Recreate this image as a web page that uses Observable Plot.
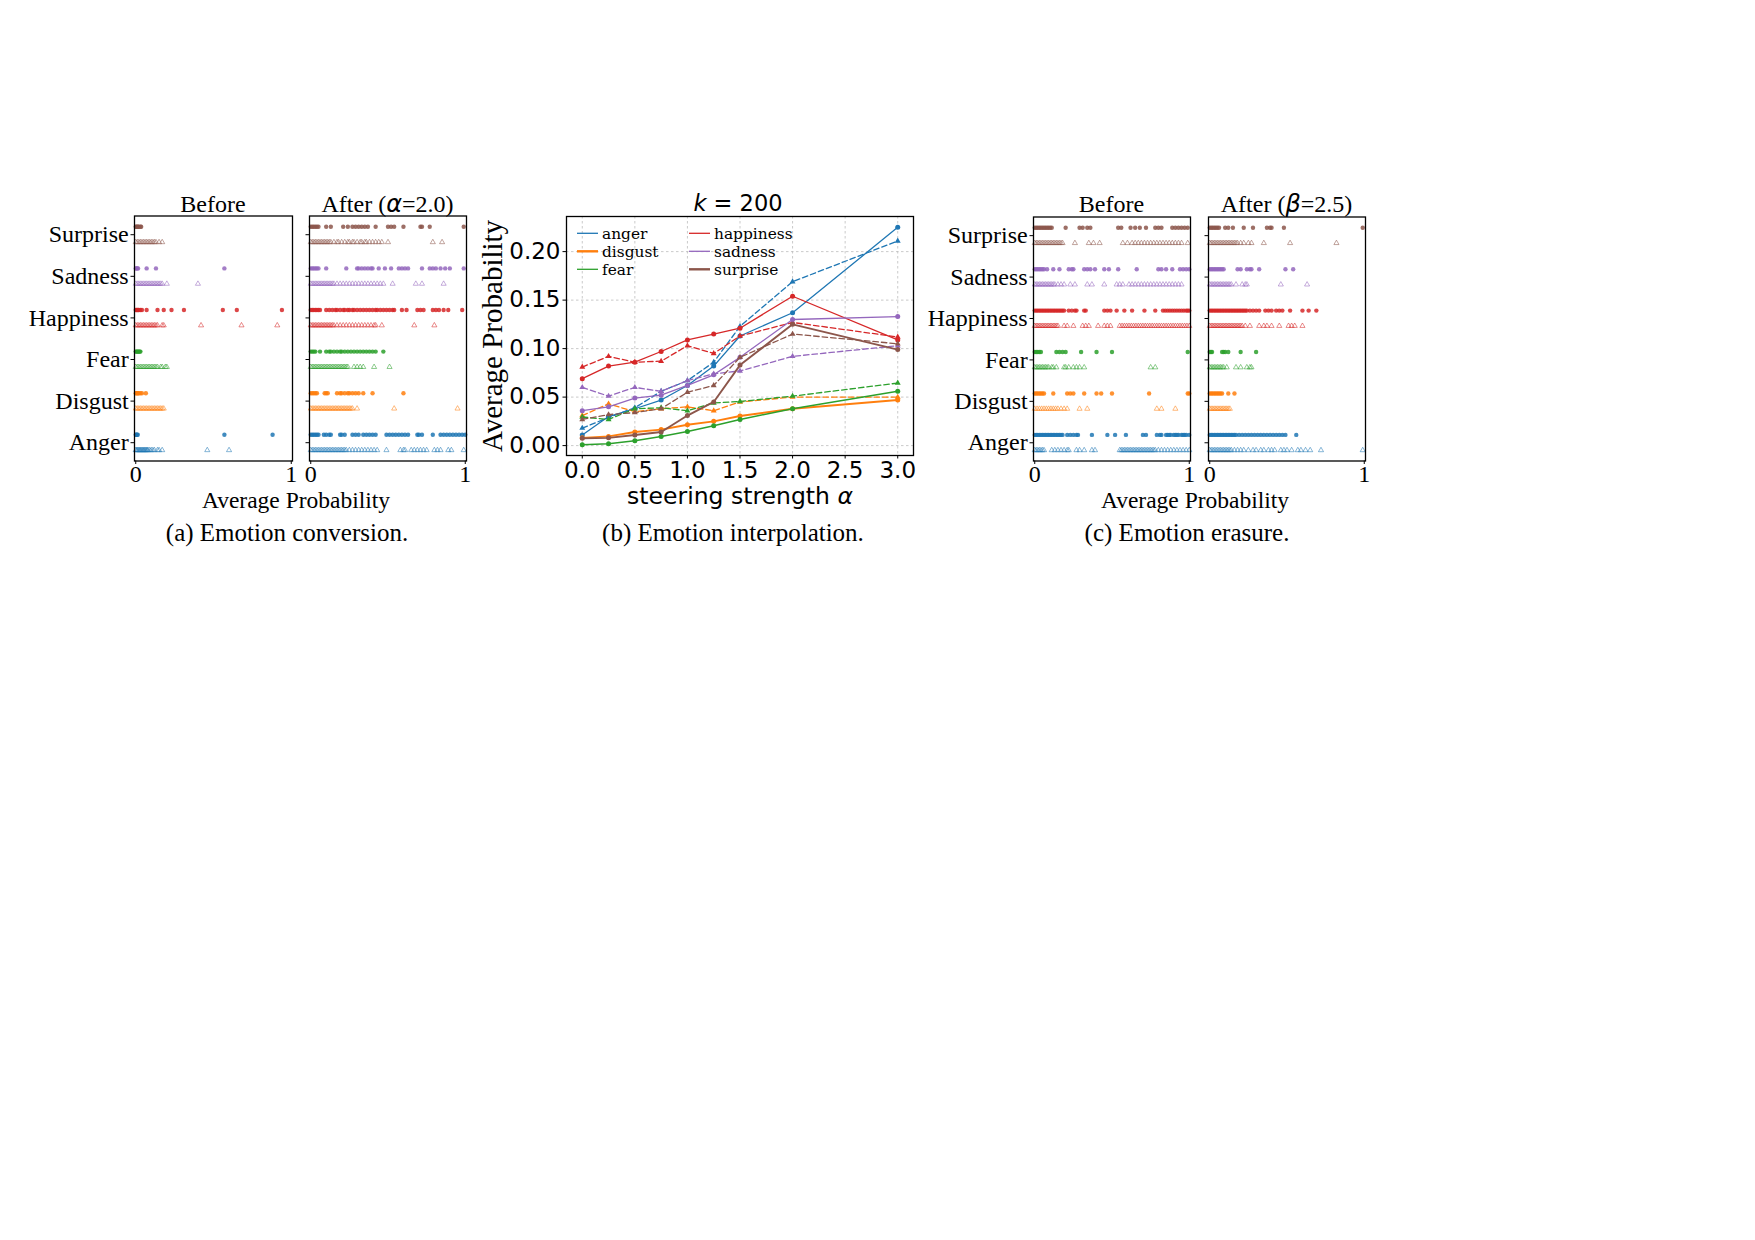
<!DOCTYPE html>
<html>
<head>
<meta charset="utf-8">
<script src="https://cdn.jsdelivr.net/npm/d3@7"></script>
<script src="https://cdn.jsdelivr.net/npm/@observablehq/plot@0.6"></script>
<style>
html,body{margin:0;padding:0;background:#fff;}
body{width:1755px;height:1240px;position:relative;overflow:hidden;}
.p{position:absolute;top:0;}
svg{max-width:none !important;}
</style>
</head>
<body>
<script>
// ---------- categories ----------
const emotions = ["Anger","Disgust","Fear","Happiness","Sadness","Surprise"];
const legendNames = ["anger","disgust","fear","happiness","sadness","surprise"];
const colors = ["#1f77b4","#ff7f0e","#2ca02c","#d62728","#9467bd","#8c564b"];
const stripTicks = [0, 1];

// ---------- (a) Emotion conversion : Before ----------
const aBefDotAnger = [0, 0.004, 0.008, 0.013, 0.57, 0.88];
const aBefTriAnger = [0, 0.005, 0.01, 0.015, 0.02, 0.025, 0.03, 0.035, 0.04, 0.045, 0.05, 0.055, 0.06, 0.065, 0.07, 0.075, 0.08, 0.09, 0.1, 0.11, 0.12, 0.14, 0.15, 0.17, 0.46, 0.6];
const aBefDotDisgust = [0, 0.005, 0.01, 0.015, 0.02, 0.03, 0.04, 0.065];
const aBefTriDisgust = [0, 0.01, 0.02, 0.03, 0.04, 0.05, 0.06, 0.07, 0.08, 0.09, 0.1, 0.11, 0.12, 0.13, 0.14, 0.15, 0.16, 0.17, 0.18];
const aBefDotFear = [0, 0.005, 0.01, 0.015, 0.02, 0.025, 0.03];
const aBefTriFear = [0, 0.01, 0.02, 0.03, 0.04, 0.05, 0.06, 0.07, 0.08, 0.09, 0.1, 0.11, 0.12, 0.13, 0.14, 0.16, 0.17, 0.19, 0.2];
const aBefDotHappiness = [0, 0.005, 0.01, 0.015, 0.02, 0.03, 0.04, 0.07, 0.14, 0.18, 0.23, 0.31, 0.56, 0.65, 0.94];
const aBefTriHappiness = [0, 0.01, 0.02, 0.03, 0.04, 0.05, 0.06, 0.07, 0.08, 0.09, 0.1, 0.11, 0.12, 0.13, 0.14, 0.17, 0.18, 0.42, 0.68, 0.91];
const aBefDotSadness = [0, 0.005, 0.01, 0.015, 0.07, 0.13, 0.57];
const aBefTriSadness = [0, 0.01, 0.02, 0.03, 0.04, 0.05, 0.06, 0.07, 0.08, 0.09, 0.1, 0.11, 0.12, 0.13, 0.14, 0.15, 0.16, 0.17, 0.2, 0.4];
const aBefDotSurprise = [0, 0.005, 0.01, 0.015, 0.02, 0.03, 0.035];
const aBefTriSurprise = [0, 0.01, 0.02, 0.03, 0.04, 0.05, 0.06, 0.07, 0.08, 0.09, 0.1, 0.11, 0.12, 0.13, 0.15, 0.17];

// ---------- (a) Emotion conversion : After (alpha = 2.0) ----------
const aAftDotAnger = [0, 0.01, 0.02, 0.03, 0.04, 0.05, 0.085, 0.1, 0.12, 0.13, 0.19, 0.2, 0.22, 0.27, 0.29, 0.31, 0.34, 0.36, 0.38, 0.4, 0.42, 0.49, 0.51, 0.53, 0.55, 0.57, 0.59, 0.61, 0.63, 0.69, 0.7, 0.72, 0.79, 0.84, 0.86, 0.88, 0.9, 0.92, 0.94, 0.96, 0.98, 1.0];
const aAftTriAnger = [0, 0.01, 0.02, 0.03, 0.04, 0.05, 0.06, 0.07, 0.08, 0.09, 0.1, 0.11, 0.12, 0.13, 0.14, 0.15, 0.16, 0.17, 0.18, 0.19, 0.2, 0.21, 0.22, 0.23, 0.25, 0.27, 0.29, 0.31, 0.33, 0.35, 0.37, 0.39, 0.41, 0.43, 0.49, 0.58, 0.6, 0.61, 0.65, 0.67, 0.69, 0.71, 0.73, 0.75, 0.8, 0.82, 0.84, 0.89, 0.91, 0.99];
const aAftDotDisgust = [0, 0.01, 0.02, 0.03, 0.04, 0.09, 0.1, 0.11, 0.17, 0.19, 0.2, 0.22, 0.24, 0.25, 0.27, 0.29, 0.31, 0.34, 0.4, 0.6];
const aAftTriDisgust = [0, 0.01, 0.02, 0.03, 0.04, 0.05, 0.06, 0.07, 0.08, 0.09, 0.1, 0.11, 0.12, 0.13, 0.14, 0.15, 0.16, 0.17, 0.18, 0.19, 0.2, 0.21, 0.22, 0.23, 0.24, 0.25, 0.26, 0.27, 0.3, 0.54, 0.95];
const aAftDotFear = [0, 0.01, 0.02, 0.03, 0.06, 0.1, 0.12, 0.13, 0.15, 0.17, 0.19, 0.2, 0.22, 0.24, 0.26, 0.28, 0.3, 0.32, 0.34, 0.36, 0.38, 0.4, 0.42, 0.47];
const aAftTriFear = [0, 0.01, 0.02, 0.03, 0.04, 0.05, 0.06, 0.07, 0.08, 0.09, 0.1, 0.11, 0.12, 0.13, 0.14, 0.15, 0.16, 0.17, 0.18, 0.19, 0.2, 0.21, 0.22, 0.23, 0.24, 0.28, 0.3, 0.32, 0.34, 0.41, 0.51];
const aAftDotHappiness = [0, 0.01, 0.02, 0.03, 0.04, 0.05, 0.06, 0.1, 0.12, 0.14, 0.16, 0.17, 0.19, 0.21, 0.22, 0.24, 0.25, 0.27, 0.28, 0.3, 0.32, 0.34, 0.36, 0.38, 0.4, 0.42, 0.43, 0.45, 0.47, 0.49, 0.51, 0.53, 0.54, 0.59, 0.62, 0.69, 0.71, 0.73, 0.79, 0.81, 0.83, 0.86, 0.89, 0.98];
const aAftTriHappiness = [0, 0.01, 0.02, 0.03, 0.04, 0.05, 0.06, 0.07, 0.08, 0.09, 0.1, 0.11, 0.12, 0.13, 0.14, 0.15, 0.17, 0.19, 0.21, 0.23, 0.25, 0.27, 0.29, 0.31, 0.33, 0.35, 0.37, 0.39, 0.41, 0.42, 0.46, 0.67, 0.8];
const aAftDotSadness = [0, 0.01, 0.02, 0.03, 0.04, 0.05, 0.1, 0.23, 0.3, 0.31, 0.33, 0.35, 0.37, 0.39, 0.4, 0.44, 0.48, 0.52, 0.57, 0.59, 0.61, 0.63, 0.72, 0.77, 0.79, 0.81, 0.84, 0.87, 0.9, 0.99];
const aAftTriSadness = [0, 0.01, 0.02, 0.03, 0.04, 0.05, 0.06, 0.07, 0.08, 0.09, 0.1, 0.11, 0.12, 0.13, 0.14, 0.15, 0.17, 0.19, 0.21, 0.23, 0.25, 0.27, 0.29, 0.31, 0.33, 0.35, 0.37, 0.39, 0.41, 0.43, 0.45, 0.47, 0.53, 0.68, 0.72, 0.86];
const aAftDotSurprise = [0, 0.01, 0.02, 0.03, 0.04, 0.05, 0.1, 0.13, 0.21, 0.24, 0.27, 0.29, 0.31, 0.33, 0.35, 0.37, 0.42, 0.5, 0.52, 0.54, 0.6, 0.71, 0.72, 0.77, 0.99];
const aAftTriSurprise = [0, 0.01, 0.02, 0.03, 0.04, 0.05, 0.06, 0.07, 0.08, 0.09, 0.1, 0.11, 0.12, 0.13, 0.15, 0.17, 0.18, 0.2, 0.22, 0.24, 0.25, 0.27, 0.28, 0.3, 0.32, 0.33, 0.35, 0.36, 0.38, 0.4, 0.42, 0.44, 0.46, 0.5, 0.79, 0.85];

// ---------- (c) Emotion erasure : Before ----------
const cBefDotAnger = [0, 0.01, 0.02, 0.03, 0.04, 0.05, 0.06, 0.07, 0.08, 0.09, 0.1, 0.11, 0.12, 0.13, 0.14, 0.15, 0.16, 0.17, 0.18, 0.21, 0.23, 0.25, 0.27, 0.28, 0.37, 0.47, 0.52, 0.59, 0.7, 0.72, 0.79, 0.81, 0.82, 0.85, 0.86, 0.87, 0.88, 0.9, 0.91, 0.92, 0.93, 0.95, 0.96, 0.97, 0.98, 1.0];
const cBefTriAnger = [0, 0.01, 0.02, 0.03, 0.04, 0.05, 0.06, 0.11, 0.13, 0.15, 0.17, 0.19, 0.21, 0.22, 0.27, 0.29, 0.32, 0.37, 0.39, 0.55, 0.56, 0.57, 0.58, 0.59, 0.6, 0.61, 0.62, 0.63, 0.64, 0.65, 0.66, 0.67, 0.68, 0.69, 0.7, 0.71, 0.72, 0.73, 0.74, 0.75, 0.76, 0.77, 0.78, 0.8, 0.82, 0.84, 0.86, 0.88, 0.9, 0.92, 0.94, 0.96, 0.98, 1.0];
const cBefDotDisgust = [0, 0.01, 0.02, 0.03, 0.04, 0.05, 0.06, 0.12, 0.21, 0.23, 0.25, 0.32, 0.4, 0.43, 0.5, 0.74, 0.99, 1.0];
const cBefTriDisgust = [0, 0.015, 0.03, 0.045, 0.06, 0.075, 0.09, 0.105, 0.12, 0.135, 0.15, 0.17, 0.19, 0.21, 0.29, 0.34, 0.79, 0.82, 0.91];
const cBefDotFear = [0, 0.01, 0.02, 0.03, 0.04, 0.14, 0.16, 0.18, 0.2, 0.3, 0.4, 0.5, 0.99];
const cBefTriFear = [0, 0.01, 0.02, 0.03, 0.04, 0.05, 0.06, 0.07, 0.08, 0.09, 0.11, 0.12, 0.14, 0.19, 0.2, 0.22, 0.25, 0.27, 0.29, 0.32, 0.75, 0.78];
const cBefDotHappiness = [0, 0.01, 0.02, 0.03, 0.04, 0.05, 0.06, 0.07, 0.08, 0.09, 0.1, 0.11, 0.12, 0.13, 0.14, 0.15, 0.16, 0.17, 0.18, 0.19, 0.22, 0.24, 0.26, 0.27, 0.32, 0.33, 0.45, 0.47, 0.49, 0.53, 0.58, 0.63, 0.71, 0.78, 0.83, 0.845, 0.86, 0.875, 0.89, 0.905, 0.92, 0.935, 0.95, 0.965, 0.98, 0.99, 1.0];
const cBefTriHappiness = [0, 0.01, 0.02, 0.03, 0.04, 0.05, 0.06, 0.07, 0.08, 0.09, 0.1, 0.11, 0.12, 0.13, 0.14, 0.15, 0.19, 0.21, 0.25, 0.31, 0.33, 0.35, 0.41, 0.45, 0.47, 0.49, 0.55, 0.565, 0.58, 0.595, 0.61, 0.625, 0.64, 0.655, 0.67, 0.685, 0.7, 0.715, 0.73, 0.745, 0.76, 0.775, 0.79, 0.805, 0.82, 0.835, 0.85, 0.865, 0.88, 0.895, 0.91, 0.925, 0.94, 0.955, 0.97, 0.985, 1.0];
const cBefDotSadness = [0, 0.01, 0.02, 0.03, 0.04, 0.05, 0.06, 0.08, 0.12, 0.16, 0.22, 0.24, 0.25, 0.32, 0.34, 0.36, 0.39, 0.45, 0.48, 0.54, 0.66, 0.8, 0.82, 0.85, 0.89, 0.94, 0.96, 0.98, 1.0];
const cBefTriSadness = [0, 0.01, 0.02, 0.03, 0.04, 0.05, 0.06, 0.07, 0.08, 0.09, 0.1, 0.11, 0.12, 0.13, 0.15, 0.17, 0.19, 0.23, 0.26, 0.34, 0.37, 0.45, 0.53, 0.55, 0.57, 0.61, 0.63, 0.65, 0.67, 0.69, 0.71, 0.73, 0.75, 0.77, 0.79, 0.81, 0.83, 0.85, 0.87, 0.89, 0.91, 0.93, 0.95];
const cBefDotSurprise = [0, 0.01, 0.02, 0.03, 0.04, 0.05, 0.06, 0.07, 0.08, 0.09, 0.1, 0.11, 0.2, 0.29, 0.31, 0.34, 0.36, 0.54, 0.56, 0.62, 0.65, 0.68, 0.72, 0.78, 0.8, 0.82, 0.89, 0.91, 0.93, 0.95, 0.97, 0.99];
const cBefTriSurprise = [0, 0.01, 0.02, 0.03, 0.04, 0.05, 0.06, 0.07, 0.08, 0.09, 0.1, 0.11, 0.12, 0.13, 0.14, 0.15, 0.16, 0.17, 0.18, 0.26, 0.35, 0.38, 0.42, 0.57, 0.6, 0.63, 0.65, 0.67, 0.69, 0.71, 0.73, 0.75, 0.77, 0.79, 0.81, 0.83, 0.85, 0.87, 0.89, 0.91, 0.93, 0.95, 0.99];

// ---------- (c) Emotion erasure : After (beta = 2.5) ----------
const cAftDotAnger = [0, 0.01, 0.02, 0.03, 0.04, 0.05, 0.06, 0.07, 0.08, 0.09, 0.1, 0.11, 0.12, 0.13, 0.14, 0.15, 0.16, 0.17, 0.19, 0.21, 0.23, 0.25, 0.27, 0.29, 0.31, 0.33, 0.35, 0.37, 0.39, 0.41, 0.43, 0.45, 0.47, 0.49, 0.56];
const cAftTriAnger = [0, 0.01, 0.02, 0.03, 0.04, 0.05, 0.06, 0.07, 0.08, 0.09, 0.1, 0.11, 0.12, 0.13, 0.14, 0.16, 0.18, 0.2, 0.22, 0.25, 0.28, 0.3, 0.33, 0.35, 0.38, 0.4, 0.42, 0.46, 0.48, 0.5, 0.53, 0.57, 0.59, 0.62, 0.65, 0.72, 0.99];
const cAftDotDisgust = [0, 0.01, 0.02, 0.03, 0.04, 0.05, 0.06, 0.07, 0.08, 0.12, 0.16];
const cAftTriDisgust = [0, 0.01, 0.02, 0.03, 0.04, 0.05, 0.06, 0.07, 0.08, 0.09, 0.1, 0.11, 0.12, 0.13];
const cAftDotFear = [0, 0.008, 0.015, 0.08, 0.09, 0.1, 0.12, 0.2, 0.3];
const cAftTriFear = [0, 0.01, 0.02, 0.03, 0.04, 0.05, 0.06, 0.07, 0.08, 0.09, 0.11, 0.17, 0.2, 0.24, 0.26, 0.27];
const cAftDotHappiness = [0, 0.01, 0.02, 0.03, 0.04, 0.05, 0.06, 0.07, 0.08, 0.09, 0.1, 0.11, 0.12, 0.13, 0.14, 0.15, 0.16, 0.17, 0.18, 0.19, 0.2, 0.21, 0.22, 0.23, 0.24, 0.26, 0.28, 0.3, 0.32, 0.36, 0.38, 0.4, 0.43, 0.45, 0.47, 0.52, 0.6, 0.64, 0.69];
const cAftTriHappiness = [0, 0.01, 0.02, 0.03, 0.04, 0.05, 0.06, 0.07, 0.08, 0.09, 0.1, 0.11, 0.12, 0.13, 0.14, 0.15, 0.16, 0.17, 0.18, 0.19, 0.2, 0.21, 0.23, 0.26, 0.32, 0.35, 0.37, 0.4, 0.45, 0.51, 0.53, 0.55, 0.6];
const cAftDotSadness = [0, 0.01, 0.02, 0.03, 0.04, 0.05, 0.06, 0.07, 0.08, 0.09, 0.18, 0.2, 0.24, 0.26, 0.27, 0.32, 0.49, 0.54];
const cAftTriSadness = [0, 0.01, 0.02, 0.03, 0.04, 0.05, 0.06, 0.07, 0.08, 0.09, 0.1, 0.11, 0.12, 0.13, 0.14, 0.17, 0.21, 0.23, 0.24, 0.46, 0.63];
const cAftDotSurprise = [0, 0.01, 0.02, 0.03, 0.04, 0.05, 0.06, 0.1, 0.12, 0.15, 0.22, 0.28, 0.37, 0.39, 0.4, 0.48, 0.99];
const cAftTriSurprise = [0, 0.01, 0.02, 0.03, 0.04, 0.05, 0.06, 0.07, 0.08, 0.09, 0.1, 0.11, 0.12, 0.13, 0.14, 0.15, 0.16, 0.17, 0.18, 0.2, 0.22, 0.25, 0.27, 0.35, 0.52, 0.82];

// ---------- (b) Emotion interpolation, k = 200 ----------
const alphas = [0, 0.25, 0.5, 0.75, 1.0, 1.25, 1.5, 2.0, 3.0];
const angerSolid     = [0.011, 0.030, 0.038, 0.047, 0.062, 0.082, 0.113, 0.137, 0.225];
const angerDashed    = [0.018, 0.029, 0.039, 0.056, 0.067, 0.086, 0.123, 0.169, 0.211];
const disgustSolid   = [0.008, 0.0095, 0.014, 0.0165, 0.0215, 0.025, 0.0305, 0.038, 0.047];
const disgustDashed  = [0.031, 0.043, 0.035, 0.038, 0.040, 0.036, 0.045, 0.050, 0.050];
const fearSolid      = [0.001, 0.002, 0.005, 0.0095, 0.0145, 0.0205, 0.027, 0.038, 0.056];
const fearDashed     = [0.0295, 0.027, 0.038, 0.039, 0.036, 0.044, 0.0455, 0.051, 0.0645];
const happinessSolid = [0.069, 0.082, 0.086, 0.097, 0.109, 0.115, 0.121, 0.154, 0.109];
const happinessDashed= [0.081, 0.092, 0.086, 0.087, 0.103, 0.095, 0.113, 0.127, 0.112];
const sadnessSolid   = [0.036, 0.040, 0.049, 0.052, 0.062, 0.073, 0.091, 0.130, 0.133];
const sadnessDashed  = [0.060, 0.051, 0.060, 0.056, 0.067, 0.074, 0.077, 0.092, 0.103];
const surpriseSolid  = [0.0075, 0.008, 0.011, 0.014, 0.031, 0.045, 0.083, 0.125, 0.099];
const surpriseDashed = [0.027, 0.032, 0.034, 0.038, 0.055, 0.062, 0.091, 0.115, 0.105];
const yTicksB = [0, 0.05, 0.10, 0.15, 0.20];
const xTicksB = [0, 0.5, 1.0, 1.5, 2.0, 2.5, 3.0];

// ---------- helpers ----------
const DOT_OFF = 0.19, TRI_OFF = -0.18;
function rows(lists, off) {
  return lists.flatMap((arr, i) => arr.map(v => ({v, y: i + off, c: colors[i]})));
}
const H = 500;
function strip({svgLeft, svgRight, left, right, top, bottom, dots, tris, labels}) {
  const el = Plot.plot({
    width: svgRight - svgLeft, height: H,
    marginLeft: left - svgLeft, marginRight: svgRight - right,
    marginTop: top, marginBottom: H - bottom,
    style: {background: "transparent", overflow: "visible", fontFamily: "'Liberation Serif','Times New Roman',serif", fontSize: "24px", color: "black"},
    x: {domain: [-0.008, 1.008], ticks: stripTicks, tickFormat: d => String(d), tickSize: 3.5, tickPadding: 0.5, label: null},
    y: {domain: [-0.44, 5.45], ticks: [0,1,2,3,4,5], tickFormat: i => labels ? emotions[i] : "", tickSize: 3.5, tickPadding: 2.3, label: null},
    color: {type: "identity"},
    marks: [
      Plot.dot(rows(tris, TRI_OFF), {x: "v", y: "y", symbol: "triangle", r: 1.9, stroke: "c", fill: "none", strokeWidth: 0.9, strokeOpacity: 0.6}),
      Plot.dot(rows(dots, DOT_OFF), {x: "v", y: "y", r: 2.2, fill: "c", fillOpacity: 0.85, stroke: "none"}),
      Plot.frame({stroke: "black", strokeWidth: 1.3})
    ]
  });
  el.classList.add("p");
  el.style.left = svgLeft + "px";
  document.body.appendChild(el);
}

// (a) Before
strip({svgLeft: 0, svgRight: 300, left: 134, right: 292, top: 215.5, bottom: 460.5, labels: true,
  dots: [aBefDotAnger, aBefDotDisgust, aBefDotFear, aBefDotHappiness, aBefDotSadness, aBefDotSurprise],
  tris: [aBefTriAnger, aBefTriDisgust, aBefTriFear, aBefTriHappiness, aBefTriSadness, aBefTriSurprise]});
// (a) After
strip({svgLeft: 300, svgRight: 478, left: 309, right: 466, top: 215.5, bottom: 460.5, labels: false,
  dots: [aAftDotAnger, aAftDotDisgust, aAftDotFear, aAftDotHappiness, aAftDotSadness, aAftDotSurprise],
  tris: [aAftTriAnger, aAftTriDisgust, aAftTriFear, aAftTriHappiness, aAftTriSadness, aAftTriSurprise]});
// (c) Before
strip({svgLeft: 930, svgRight: 1198, left: 1033, right: 1190, top: 216.5, bottom: 460.5, labels: true,
  dots: [cBefDotAnger, cBefDotDisgust, cBefDotFear, cBefDotHappiness, cBefDotSadness, cBefDotSurprise],
  tris: [cBefTriAnger, cBefTriDisgust, cBefTriFear, cBefTriHappiness, cBefTriSadness, cBefTriSurprise]});
// (c) After
strip({svgLeft: 1198, svgRight: 1380, left: 1208, right: 1365, top: 216.5, bottom: 460.5, labels: false,
  dots: [cAftDotAnger, cAftDotDisgust, cAftDotFear, cAftDotHappiness, cAftDotSadness, cAftDotSurprise],
  tris: [cAftTriAnger, cAftTriDisgust, cAftTriFear, cAftTriHappiness, cAftTriSadness, cAftTriSurprise]});

// (b) line chart
const solids = [angerSolid, disgustSolid, fearSolid, happinessSolid, sadnessSolid, surpriseSolid];
const dashes = [angerDashed, disgustDashed, fearDashed, happinessDashed, sadnessDashed, surpriseDashed];
const solidW = [1.3, 1.9, 1.5, 1.3, 1.3, 1.9];
const marksB = [
  Plot.gridX(xTicksB, {stroke: "#bdbdbd", strokeOpacity: 1, strokeWidth: 0.8, strokeDasharray: "2.5,2.5"}),
  Plot.gridY(yTicksB, {stroke: "#bdbdbd", strokeOpacity: 1, strokeWidth: 0.8, strokeDasharray: "2.5,2.5"})
];
legendNames.forEach((name, i) => {
  const sd = alphas.map((a, j) => ({a, v: solids[i][j]}));
  const dd = alphas.map((a, j) => ({a, v: dashes[i][j]}));
  marksB.push(Plot.line(dd, {x: "a", y: "v", stroke: colors[i], strokeWidth: 1.3, strokeDasharray: "5.5,3"}));
  marksB.push(Plot.dot(dd, {x: "a", y: "v", symbol: "triangle", r: 2.2, fill: colors[i], stroke: "none"}));
  marksB.push(Plot.line(sd, {x: "a", y: "v", stroke: colors[i], strokeWidth: solidW[i]}));
  marksB.push(Plot.dot(sd, {x: "a", y: "v", r: 2.5, fill: colors[i], stroke: "none"}));
});
marksB.push(Plot.frame({stroke: "black", strokeWidth: 1.3}));
const bLeft = 480, bRight = 930;
const plotB = Plot.plot({
  width: bRight - bLeft, height: H,
  marginLeft: 566 - bLeft, marginRight: bRight - 913, marginTop: 216, marginBottom: H - 455,
  style: {background: "transparent", overflow: "visible", fontFamily: "'DejaVu Sans',sans-serif", fontSize: "23px", color: "black"},
  x: {domain: [-0.15, 3.15], ticks: xTicksB, tickFormat: d3.format(".1f"), tickSize: 3.5, tickPadding: 3, label: null},
  y: {domain: [-0.0102, 0.2362], ticks: yTicksB, tickFormat: d3.format(".2f"), tickSize: 3.5, tickPadding: 2.5, label: null},
  marks: marksB
});
plotB.classList.add("p");
plotB.style.left = bLeft + "px";
document.body.appendChild(plotB);

// ---------- titles, labels, captions, legend ----------
const ov = d3.select("body").append("svg")
  .attr("class", "p").attr("width", 1755).attr("height", 1240)
  .style("left", "0px").style("pointer-events", "none").style("overflow", "visible");
const SERIF = "'Liberation Serif','Times New Roman',serif";
const SANS = "'DejaVu Sans',sans-serif";
function txt(x, y, parts, size, family, anchor = "middle") {
  const t = ov.append("text").attr("x", x).attr("y", y).attr("text-anchor", anchor)
    .attr("font-size", size).attr("font-family", family).attr("fill", "black");
  parts.forEach(p => {
    const s = t.append("tspan").text(p.t);
    if (p.f) s.attr("font-family", p.f);
    if (p.i) s.attr("font-style", "italic");
  });
  return t;
}
// (a)
txt(213, 211.5, [{t: "Before"}], 24, SERIF);
txt(387.5, 211.5, [{t: "After ("}, {t: "α", f: SANS, i: true}, {t: "=2.0)"}], 24, SERIF);
txt(296, 508, [{t: "Average Probability"}], 23.5, SERIF);
txt(287, 541, [{t: "(a) Emotion conversion."}], 25, SERIF);
// (b)
txt(738, 210.5, [{t: "k", i: true}, {t: " = 200"}], 22.5, SANS);
txt(740, 504, [{t: "steering strength "}, {t: "α", i: true}], 23.5, SANS);
txt(0, 0, [{t: "Average Probability"}], 29, SERIF).attr("transform", "translate(502,336) rotate(-90)");
txt(733, 541, [{t: "(b) Emotion interpolation."}], 25, SERIF);
// (c)
txt(1111.5, 211.5, [{t: "Before"}], 24, SERIF);
txt(1286.5, 211.5, [{t: "After ("}, {t: "β", f: SANS, i: true}, {t: "=2.5)"}], 24, SERIF);
txt(1195, 508, [{t: "Average Probability"}], 23.5, SERIF);
txt(1187, 541, [{t: "(c) Emotion erasure."}], 25, SERIF);
// legend (b)
const legW = [1.3, 2.4, 1.3, 1.3, 1.3, 2.4];
legendNames.forEach((name, i) => {
  const col = Math.floor(i / 3), row = i % 3;
  const x0 = col === 0 ? 577 : 689, y0 = 233.3 + row * 18;
  ov.append("line").attr("x1", x0).attr("x2", x0 + 21).attr("y1", y0).attr("y2", y0)
    .attr("stroke", colors[i]).attr("stroke-width", legW[i]);
  ov.append("text").attr("x", x0 + 25).attr("y", y0).attr("dy", "0.35em")
    .attr("font-family", "'DejaVu Serif',serif").attr("font-size", 15.4).attr("fill", "black").text(name);
});
</script>
</body>
</html>
